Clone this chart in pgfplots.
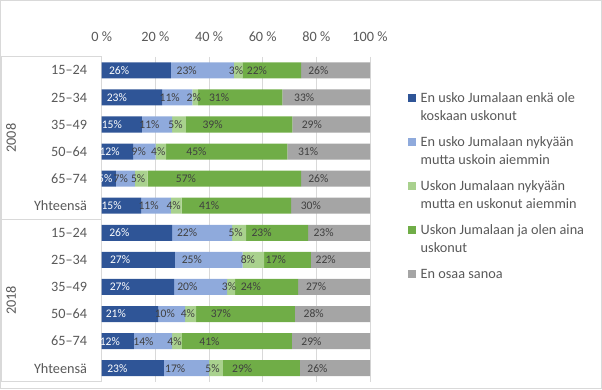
\documentclass[border=0pt]{standalone}
\usepackage{pgfplots}
\pgfplotsset{compat=1.18}
\usepackage{pgfplotstable}
\usepackage{fontspec}
\setmainfont{Carlito}
\definecolor{c1}{HTML}{2F5597}
\definecolor{c2}{HTML}{8FAADC}
\definecolor{c3}{HTML}{A9D18E}
\definecolor{c4}{HTML}{70AD47}
\definecolor{c5}{HTML}{A5A5A5}
\definecolor{txt}{HTML}{595959}
\definecolor{lbl}{HTML}{404040}
\definecolor{gridc}{HTML}{D9D9D9}
\newcommand\bigf{\fontsize{10.7}{13.5}\selectfont}
\newcommand\smf{\fontsize{8.7}{10}\selectfont}
\pgfplotstableread{
row a b c d e la lb lc ld le
0 25.8 23.5 3.1 21.9 25.7 26 23 3 22 26
1 22.5 11.3 2.1 31.4 32.7 23 11 2 31 33
2 15.0 11.2 5.2 39.7 28.9 15 11 5 39 29
3 11.7 8.4 3.9 45.2 30.8 12 9 4 45 31
4 5.3 7.1 4.7 57.2 25.7 5 7 5 57 26
5 14.7 11.1 4.0 40.8 29.4 15 11 4 41 30
6 26.2 22.4 5.2 23.1 23.1 26 22 5 23 23
7 27.3 25.2 8.0 17.5 22.0 27 25 8 17 22
8 27.0 19.7 3.0 23.5 26.8 27 20 3 24 27
9 21.0 10.1 4.1 36.8 28.0 21 10 4 37 28
10 12.0 14.2 3.7 41.0 29.1 12 14 4 41 29
11 23.2 16.8 5.2 28.7 26.1 23 17 5 29 26
}\data
\pgfplotsset{
  legimg/.style={legend image code/.code={\fill[##1] (0pt,0pt) rectangle (6pt,6pt);}},
}
\begin{document}
\begin{tikzpicture}
\draw[gridc, line width=0.75pt] (0.375pt,-0.375pt) rectangle (451.125pt,-291.375pt);
\begin{axis}[
  at={(76.3pt,-42.6pt)}, anchor=north west,
  scale only axis, width=201.2pt, height=243.7pt,
  xbar stacked, bar width=12pt,
  xmin=0, xmax=100, ymin=-0.5, ymax=11.5, y dir=reverse,
  axis line style={draw=none},
  major tick length=0pt,
  xtick={0,20,...,100},
  xticklabels={0 \%,20 \%,40 \%,60 \%,80 \%,100 \%},
  xticklabel pos=upper,
  xticklabel style={anchor=base, yshift=11.3pt, inner sep=0pt, font=\bigf, text=txt},
  ytick={0,...,11},
  yticklabels={15–24,25–34,35–49,50–64,65–74,Yhteensä,15–24,25–34,35–49,50–64,65–74,Yhteensä},
  yticklabel style={anchor=east, xshift=-10.8pt, inner sep=0pt, font=\bigf, text=txt},
  xmajorgrids, grid style={gridc, line width=0.75pt},
  clip=false,
  legend style={at={(1.1417,0.8986)}, anchor=north west, draw=none, fill=none,
    inner sep=0pt, outer sep=0pt, row sep=6pt, column sep=3.5pt, font=\bigf, text=txt,
    cells={anchor=base west}, nodes={inner sep=0pt, text depth=}},
  nodes near coords={\pgfplotspointmeta\%},
  point meta=explicit symbolic,
  every node near coord/.append style={font=\smf, anchor=center, xshift={-\segw*0.503pt}},
]
\addplot[fill=c1, draw=none, legimg, visualization depends on={\thisrow{a} \as \segw},
  every node near coord/.append style={text=white}] table[x=a, y=row, meta=la] {\data};
\addlegendentry{\parbox[t]{130pt}{\strut En usko Jumalaan enkä ole\\koskaan uskonut\strut}}
\addplot[fill=c2, draw=none, legimg, visualization depends on={\thisrow{b} \as \segw},
  every node near coord/.append style={text=lbl}] table[x=b, y=row, meta=lb] {\data};
\addlegendentry{\parbox[t]{130pt}{\strut En usko Jumalaan nykyään\\mutta uskoin aiemmin\strut}}
\addplot[fill=c3, draw=none, legimg, visualization depends on={\thisrow{c} \as \segw},
  every node near coord/.append style={text=lbl}] table[x=c, y=row, meta=lc] {\data};
\addlegendentry{\parbox[t]{130pt}{\strut Uskon Jumalaan nykyään\\mutta en uskonut aiemmin\strut}}
\addplot[fill=c4, draw=none, legimg, visualization depends on={\thisrow{d} \as \segw},
  every node near coord/.append style={text=lbl}] table[x=d, y=row, meta=ld] {\data};
\addlegendentry{\parbox[t]{130pt}{\strut Uskon Jumalaan ja olen aina\\uskonut\strut}}
\addplot[fill=c5, draw=none, legimg, visualization depends on={\thisrow{e} \as \segw},
  every node near coord/.append style={text=lbl}] table[x=e, y=row, meta=le] {\data};
\addlegendentry{\parbox[t]{130pt}{\strut En osaa sanoa\strut}}
\draw[gridc, line width=0.75pt] ([xshift=-75.9pt]axis cs:0,-0.5) -- (axis cs:0,-0.5);
\draw[gridc, line width=0.75pt] ([xshift=-75.9pt]axis cs:0,5.5) -- (axis cs:0,5.5);
\draw[gridc, line width=0.75pt] ([xshift=-75.9pt]axis cs:0,11.5) -- (axis cs:0,11.5);
\draw[gridc, line width=0.75pt] ([xshift=-75.2pt]axis cs:0,-0.5) -- ([xshift=-75.2pt]axis cs:0,11.5);
\node[rotate=90, font=\bigf, text=txt] at ([xshift=-68pt]axis cs:0,2.5) {2008};
\node[rotate=90, font=\bigf, text=txt] at ([xshift=-68pt]axis cs:0,8.5) {2018};
\end{axis}
\end{tikzpicture}
\end{document}
